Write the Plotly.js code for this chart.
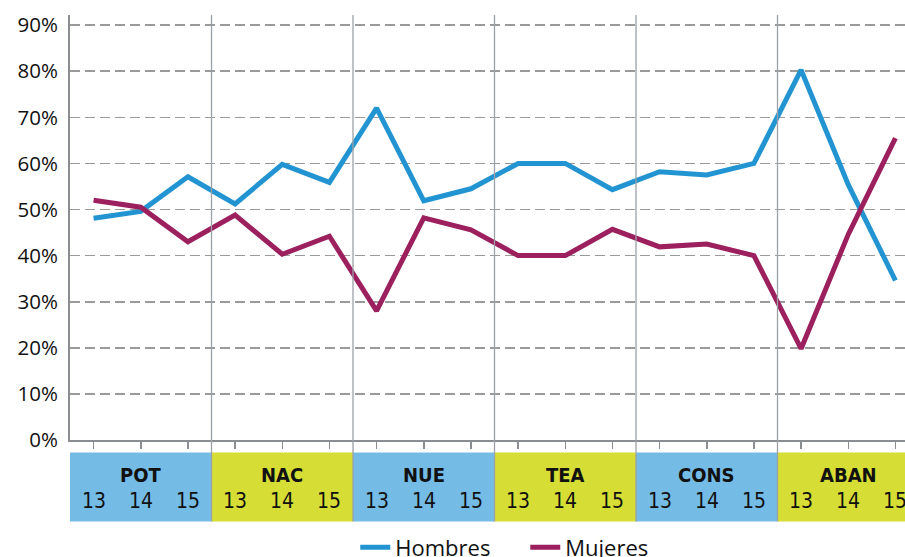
<!DOCTYPE html>
<html>
<head>
<meta charset="utf-8">
<script src="https://cdn.plot.ly/plotly-3.0.1.min.js"></script>
<style>
html,body{margin:0;padding:0;overflow:hidden;background:#fff;width:905px;height:557px;}
#chart{width:930px;height:557px;}
</style>
</head>
<body>
<div id="chart"></div>
<script>
// ---- data ----
const groups = ["POT", "NAC", "NUE", "TEA", "CONS", "ABAN"];
const years = ["13", "14", "15"];
const hombres = [48.1, 49.6, 57.1, 51.2, 59.8, 55.9, 72.0, 51.9, 54.5, 60.0, 60.0, 54.3, 58.2, 57.5, 60.0, 80.3, 55.4, 34.6];
const mujeres = [52.0, 50.5, 43.0, 48.8, 40.3, 44.2, 28.0, 48.2, 45.6, 40.0, 40.0, 45.7, 41.9, 42.5, 40.0, 19.8, 44.6, 65.5];
const yTicks = [0, 10, 20, 30, 40, 50, 60, 70, 80, 90];

const groupColors = ["#74bbe6", "#d6dd35"];
const xIdx = hombres.map((_, i) => i);
const condFont = "Liberation Sans Narrow, DejaVu Sans Condensed, Roboto, sans-serif";

const shapes = [];
const annotations = [];
groups.forEach((g, gi) => {
  shapes.push({
    type: "rect", xref: "x", yref: "paper",
    x0: gi * 3 - 0.5, x1: gi * 3 + 2.5, y0: -0.1915, y1: -0.0294,
    fillcolor: groupColors[gi % 2], line: {width: 0}, layer: "below"
  });
  annotations.push({
    xref: "x", yref: "paper", x: gi * 3 + 1, y: -0.0834,
    text: "<b>" + g + "</b>", showarrow: false, yanchor: "middle",
    font: {family: condFont, size: 20, color: "#111"}
  });
  years.forEach((yr, yi) => {
    annotations.push({
      xref: "x", yref: "paper", x: gi * 3 + yi, y: -0.1445,
      text: yr, showarrow: false, yanchor: "middle",
      font: {family: condFont, size: 21, color: "#111"}
    });
  });
  if (gi > 0) {
    shapes.push({
      type: "line", xref: "x", yref: "paper",
      x0: gi * 3 - 0.5, x1: gi * 3 - 0.5, y0: -0.1915, y1: 1,
      line: {color: "#9da1a6", width: 1.3}, layer: "above"
    });
  }
});

const traces = [
  {x: xIdx, y: hombres, type: "scatter", mode: "lines", name: "Hombres",
   line: {color: "#2394d2", width: 5}},
  {x: xIdx, y: mujeres, type: "scatter", mode: "lines", name: "Mujeres",
   line: {color: "#9c1f5e", width: 5}}
];

const layout = {
  width: 930, height: 557,
  margin: {l: 70, r: 11, t: 15, b: 116.5, autoexpand: false},
  paper_bgcolor: "#fff", plot_bgcolor: "#fff",
  showlegend: true,
  legend: {orientation: "h", x: 0.336, xanchor: "left", y: -0.2526, yanchor: "middle",
           font: {family: "Open Sans, sans-serif", size: 22, color: "#111"},
           entrywidth: 125, entrywidthmode: "pixels", tracegroupgap: 0},
  xaxis: {
    range: [-0.5, 17.5], tickvals: xIdx, showticklabels: false,
    ticks: "outside", ticklen: 7, tickwidth: 1.5, tickcolor: "#8a8d91",
    showgrid: false, zeroline: false, showline: true, linecolor: "#8a8d91", linewidth: 2,
    fixedrange: true
  },
  yaxis: {
    range: [0, 92.2], tickvals: yTicks, ticktext: yTicks.map(v => v + "%"),
    ticks: "", showline: true, linecolor: "#8a8d91", linewidth: 2,
    showgrid: true, gridcolor: "#9a9a9a", gridwidth: 1.6, griddash: "10px,5px",
    zeroline: false, ticklabelstandoff: 6,
    tickfont: {family: "Open Sans, sans-serif", size: 20.5, color: "#111"},
    fixedrange: true
  },
  shapes: shapes,
  annotations: annotations,
  hovermode: false
};

Plotly.newPlot("chart", traces, layout, {displayModeBar: false, staticPlot: true});
</script>
</body>
</html>
